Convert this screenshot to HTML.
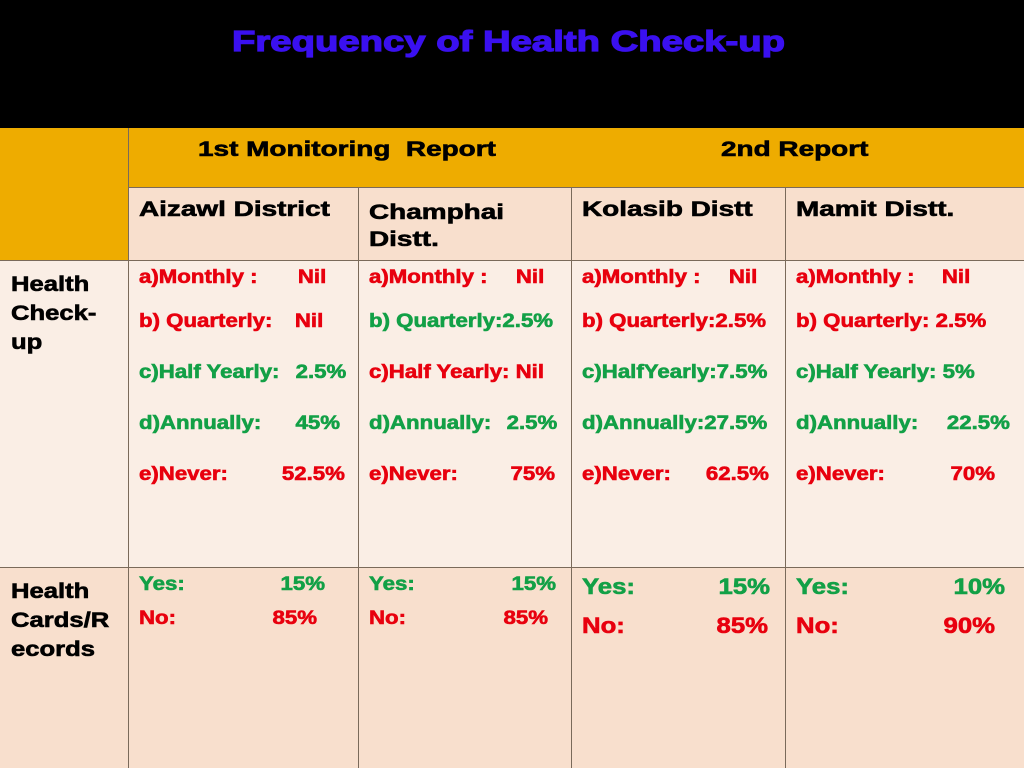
<!DOCTYPE html>
<html><head><meta charset="utf-8"><style>
body{margin:0;width:1024px;height:768px;overflow:hidden;background:#000;font-family:"Liberation Sans",sans-serif;font-weight:bold;position:relative}
div{position:absolute;box-sizing:border-box}
.c{border-right:1px solid #7a6a5a;border-bottom:1px solid #7a6a5a}
.t{white-space:nowrap;line-height:1;-webkit-text-stroke:0.6px currentColor;transform-origin:left top}
.h{transform:scaleX(1.33);font-size:21px}
.r{color:#e8000e}.g{color:#12a046}
</style></head><body>
<div class="t" style="left:232px;top:28px;font-size:29px;color:#3a10f0;-webkit-text-stroke:1.2px #3a10f0;transform:scaleX(1.32)">Frequency of Health Check-up</div>

<div class="c" style="left:0;top:128px;width:129px;height:133px;background:#eeac00"></div>
<div class="c" style="left:129px;top:128px;width:443px;height:60px;background:#eeac00;border-right:none"></div>
<div class="c" style="left:572px;top:128px;width:452px;height:60px;background:#eeac00;border-right:none"></div>
<div class="t h" style="left:198px;top:139px">1st Monitoring&nbsp; Report</div>
<div class="t h" style="left:721px;top:139px">2nd Report</div>

<div class="c" style="left:129px;top:188px;width:230px;height:73px;background:#f8dfcd"></div>
<div class="c" style="left:359px;top:188px;width:213px;height:73px;background:#f8dfcd"></div>
<div class="c" style="left:572px;top:188px;width:214px;height:73px;background:#f8dfcd"></div>
<div class="c" style="left:786px;top:188px;width:238px;height:73px;background:#f8dfcd;border-right:none"></div>
<div class="t h" style="left:139px;top:199px">Aizawl District</div>
<div class="t h" style="left:369px;top:199px;line-height:27px">Champhai<br>Distt.</div>
<div class="t h" style="left:582px;top:199px">Kolasib Distt</div>
<div class="t h" style="left:796px;top:199px">Mamit Distt.</div>

<div style="left:0;top:261px;width:1024px;height:307px;background:#faeee5;border-bottom:1px solid #7a6a5a"></div>
<div style="left:0;top:568px;width:1024px;height:200px;background:#f8dfcd"></div>
<div style="left:128px;top:128px;width:1px;height:640px;background:#7a6a5a"></div>
<div style="left:358px;top:188px;width:1px;height:580px;background:#7a6a5a"></div>
<div style="left:571px;top:188px;width:1px;height:580px;background:#7a6a5a"></div>
<div style="left:785px;top:188px;width:1px;height:580px;background:#7a6a5a"></div>

<div class="t" style="left:11px;top:270px;font-size:21px;line-height:29px;transform:scaleX(1.22)">Health<br>Check-<br>up</div>
<div class="t" style="left:11px;top:577px;font-size:21px;line-height:29px;transform:scaleX(1.22)">Health<br>Cards/R<br>ecords</div>

<script>
const cols=[139,369,582,796];
const rights=[[326,544,757,970],[323,556,769,990],[346,547,770,978],[340,557,770,1010],[345,555,769,995]];
const rowsY=[268,312,363,414,465];
const labels=[["a)Monthly :","a)Monthly :","a)Monthly :","a)Monthly :"],["b) Quarterly:","b) Quarterly:","b) Quarterly:","b) Quarterly:"],["c)Half Yearly:","c)Half Yearly:","c)HalfYearly:","c)Half Yearly:"],["d)Annually:","d)Annually:","d)Annually:","d)Annually:"],["e)Never:","e)Never:","e)Never:","e)Never:"]];
const vals=[["Nil","Nil","Nil","Nil"],["Nil","2.5%","2.5%","2.5%"],["2.5%","Nil","7.5%","5%"],["45%","2.5%","27.5%","22.5%"],["52.5%","75%","62.5%","70%"]];
const colorsM=[["r","r","r","r"],["r","g","r","r"],["g","r","g","g"],["g","g","g","g"],["r","r","r","r"]];
const yes=["15%","15%","15%","10%"],no=["85%","85%","85%","90%"];
const yesR=[325,556,770,1005],noR=[317,548,768,995];
const body=document.body;
const SX=1.17;
function add(text,cls,left,top,size,right){
 const d=document.createElement('div');
 
 
 d.className='t '+cls;d.textContent=text;d.style.top=top+'px';d.style.fontSize=size+'px';
 d.style.transform='scaleX('+SX+')';
 if(right!==undefined){d.style.right=(1024-right)+'px';d.style.transformOrigin='right top';}else d.style.left=left+'px';
 body.appendChild(d);
}
for(let i=0;i<5;i++)for(let j=0;j<4;j++){
 const cl=colorsM[i][j];
 const lbl=labels[i][j], v=vals[i][j];
 if(j===1&&i===1){add("b) Quarterly:2.5%",cl,cols[j],rowsY[i],19);continue;}
 if(j===1&&i===2){add("c)Half Yearly: Nil",cl,cols[j],rowsY[i],19);continue;}
 if(j===2&&i<4&&i>0){add(lbl+v,cl,cols[j],rowsY[i],19);continue;}
 if(j===3&&i===1){add("b) Quarterly: 2.5%",cl,cols[j],rowsY[i],19);continue;}
 if(j===3&&i===2){add("c)Half Yearly: 5%",cl,cols[j],rowsY[i],19);continue;}
 add(lbl,cl,cols[j],rowsY[i],19);
 add(v,cl,0,rowsY[i],19,rights[i][j]);
}
for(let j=0;j<4;j++){
 const big=j>=2, s=big?22:19;
 add("Yes:","g",cols[j],big?576:575,s);add(yes[j],"g",0,big?576:575,s,yesR[j]);
 add("No:","r",cols[j],big?615:609,s);add(no[j],"r",0,big?615:609,s,noR[j]);
}
</script>
</body></html>
